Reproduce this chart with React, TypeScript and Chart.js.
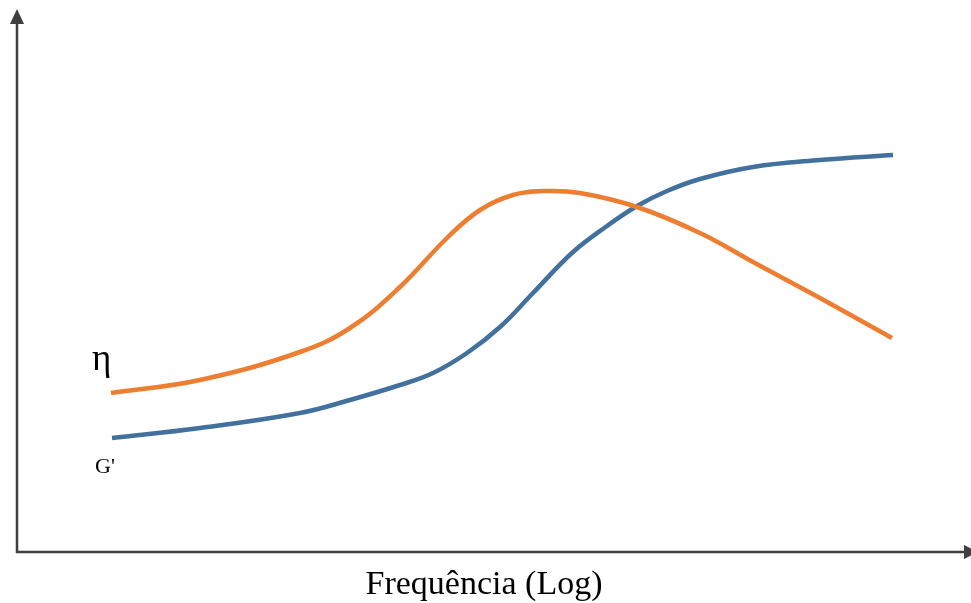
import React, { useEffect, useRef } from "react";
import { Chart, registerables } from "chart.js";

Chart.register(...registerables);

// log-frequency (arbitrary units) and values for each curve
const etaFreq = [9.4, 18.3, 28.3, 33.3, 38.3, 43.0, 46.3, 49.6, 52.8, 56.3, 62.0, 68.3, 73.6, 80.3, 87.5];
const etaValues = [15.9, 17.2, 20.0, 22.4, 26.5, 31.4, 34.2, 35.7, 36.1, 35.9, 34.5, 31.9, 29.0, 25.4, 21.4];

const gFreq = [9.5, 18.3, 28.3, 33.3, 38.3, 41.6, 45.0, 48.3, 51.6, 55.6, 59.0, 62.0, 65.0, 68.3, 73.6, 80.3, 87.6];
const gValues = [11.4, 12.4, 13.9, 15.2, 16.7, 17.9, 19.9, 22.5, 25.9, 30.0, 32.6, 34.6, 36.1, 37.3, 38.5, 39.2, 39.7];

const seriesLabels = ["η", "G'"];
const xAxisTitle = "Frequência (Log)";

const AXIS_COLOR = "#3f3f3f";
const ETA_COLOR = "#ED7D31";
const G_COLOR = "#41719C";

const axesPlugin = {
  id: "arrowAxes",
  afterDraw(chart: any) {
    const { ctx, chartArea } = chart;
    const { left, right, top, bottom } = chartArea;
    ctx.save();
    ctx.strokeStyle = AXIS_COLOR;
    ctx.fillStyle = AXIS_COLOR;
    ctx.lineWidth = 2.5;
    // vertical axis
    ctx.beginPath();
    ctx.moveTo(left, bottom + 1);
    ctx.lineTo(left, top + 10);
    ctx.stroke();
    ctx.beginPath();
    ctx.moveTo(left, top - 3);
    ctx.lineTo(left - 7, top + 12);
    ctx.lineTo(left + 7, top + 12);
    ctx.closePath();
    ctx.fill();
    // horizontal axis
    ctx.beginPath();
    ctx.moveTo(left - 1, bottom);
    ctx.lineTo(right - 3, bottom);
    ctx.stroke();
    ctx.beginPath();
    ctx.moveTo(right + 11, bottom);
    ctx.lineTo(right - 3, bottom - 7);
    ctx.lineTo(right - 3, bottom + 7);
    ctx.closePath();
    ctx.fill();

    // x-axis title
    ctx.fillStyle = "#000";
    ctx.textAlign = "center";
    ctx.textBaseline = "alphabetic";
    ctx.font = '34px "Liberation Serif", "Times New Roman", serif';
    ctx.fillText(xAxisTitle, (left + right) / 2 - 8, bottom + 42);

    // curve labels
    const xs = chart.scales.x;
    const ys = chart.scales.y;
    ctx.textAlign = "left";
    ctx.font = '37px "Liberation Serif", "Times New Roman", serif';
    ctx.fillText(seriesLabels[0], xs.getPixelForValue(etaFreq[0]) - 19, ys.getPixelForValue(etaValues[0]) - 23);
    ctx.font = '22px "Liberation Serif", "Times New Roman", serif';
    ctx.fillText(seriesLabels[1], xs.getPixelForValue(gFreq[0]) - 17, ys.getPixelForValue(gValues[0]) + 35);
    ctx.restore();
  },
};

export default function App() {
  const canvasRef = useRef<HTMLCanvasElement | null>(null);

  useEffect(() => {
    if (!canvasRef.current) return;
    const chart = new Chart(canvasRef.current, {
      type: "line",
      data: {
        datasets: [
          {
            label: seriesLabels[0],
            data: etaFreq.map((x, i) => ({ x, y: etaValues[i] })),
            borderColor: ETA_COLOR,
            borderWidth: 4.5,
            pointRadius: 0,
            tension: 0.4,
            borderCapStyle: "butt",
            fill: false,
          },
          {
            label: seriesLabels[1],
            data: gFreq.map((x, i) => ({ x, y: gValues[i] })),
            borderColor: G_COLOR,
            borderWidth: 4.5,
            pointRadius: 0,
            tension: 0.4,
            borderCapStyle: "butt",
            fill: false,
          },
        ],
      },
      options: {
        animation: false,
        responsive: true,
        maintainAspectRatio: false,
        layout: { padding: { left: 17, right: 4, top: 12, bottom: 51 } },
        plugins: {
          legend: { display: false },
          tooltip: { enabled: false },
          title: { display: false },
        },
        scales: {
          x: { type: "linear", min: 0, max: 95, display: false },
          y: { type: "linear", min: 0, max: 54, display: false },
        },
      },
      plugins: [axesPlugin],
    });
    return () => chart.destroy();
  }, []);

  return (
    <div style={{ position: "fixed", left: 0, top: 0, width: 971, height: 603, background: "#fff" }}>
      <canvas ref={canvasRef} />
    </div>
  );
}
